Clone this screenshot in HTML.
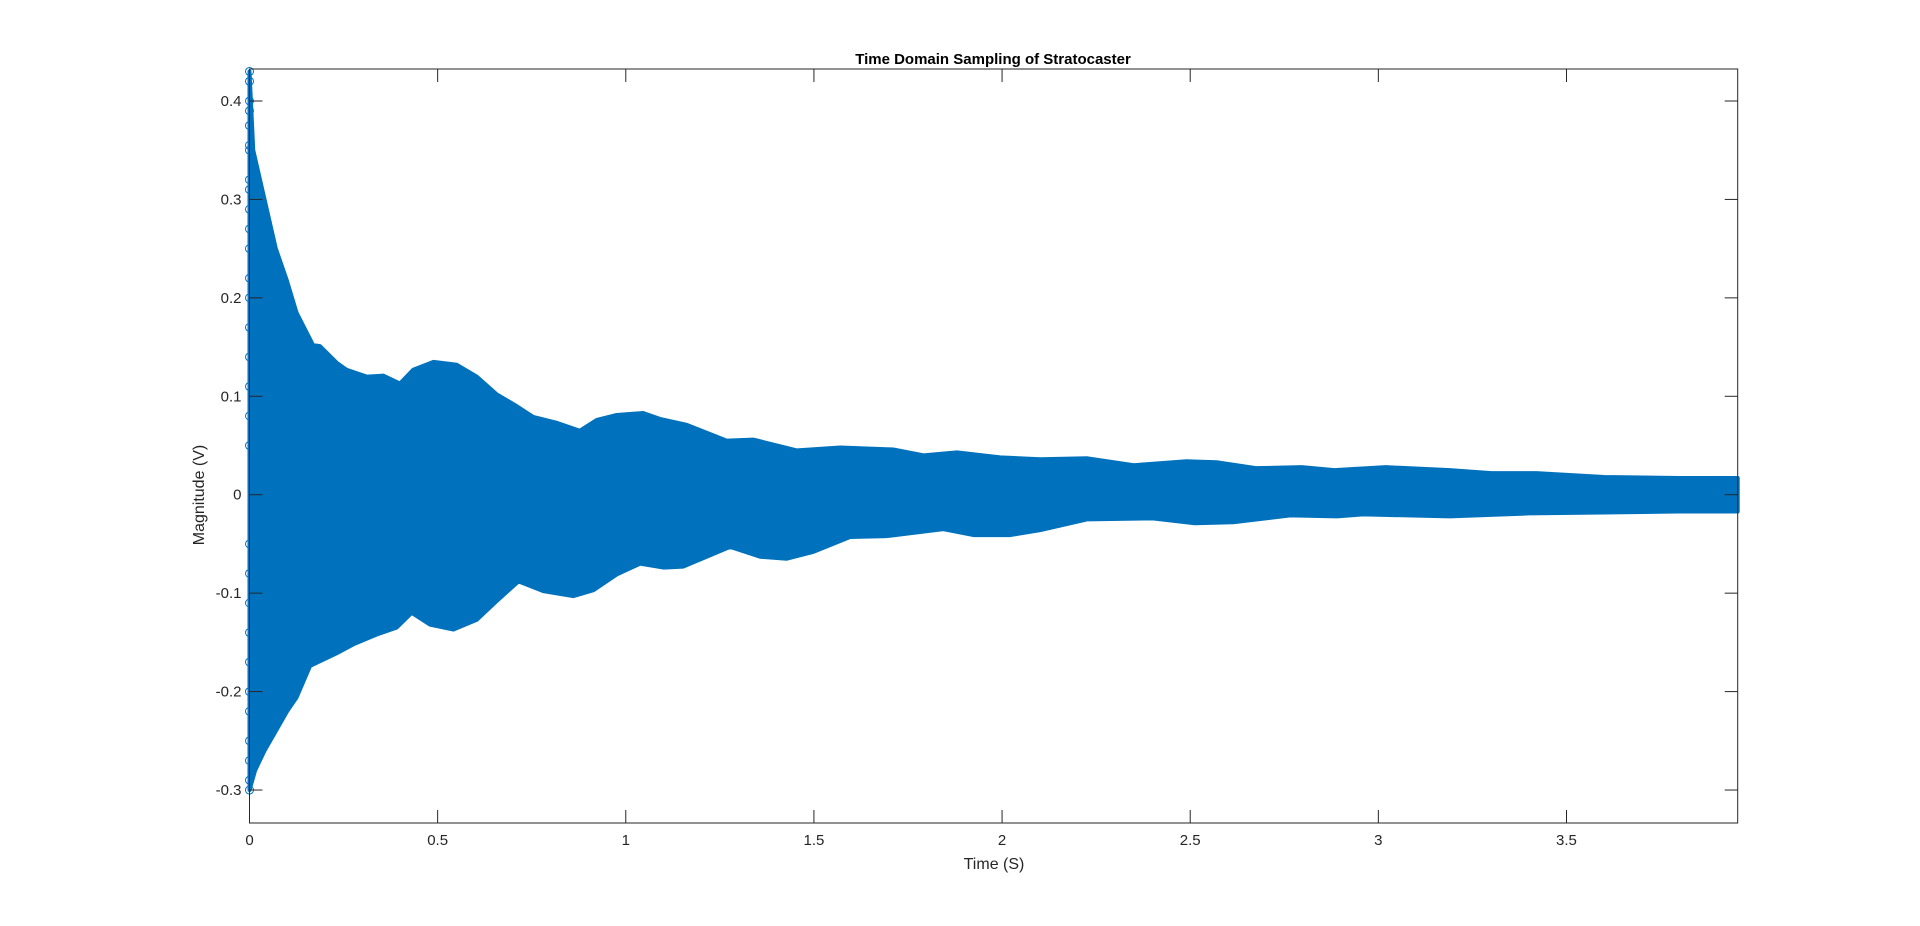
<!DOCTYPE html>
<html><head><meta charset="utf-8"><style>
body{margin:0;background:#fff;}
svg{display:block;font-family:"Liberation Sans",Arial,sans-serif;}
</style></head><body>
<svg id="chart" width="1920" height="926" viewBox="0 0 1920 926">
<rect x="0" y="0" width="1920" height="926" fill="#fff"/>
<g id="plot"></g>
<g id="axes"></g>
<text x="993" y="64" text-anchor="middle" font-size="15" font-weight="bold" fill="#000">Time Domain Sampling of Stratocaster</text>
<text x="994" y="869" text-anchor="middle" font-size="16" fill="#262626">Time (S)</text>
<text transform="translate(204,495) rotate(-90)" text-anchor="middle" font-size="16" fill="#262626">Magnitude (V)</text>
</svg>
<script>
const upperT=[0,0.01,0.04,0.07,0.099,0.125,0.169,0.187,0.232,0.258,0.312,0.356,0.400,0.435,0.489,0.551,0.604,0.657,0.710,0.754,0.817,0.878,0.923,0.976,1.046,1.091,1.162,1.268,1.339,1.455,1.570,1.711,1.791,1.880,1.995,2.101,2.227,2.35,2.49,2.57,2.674,2.796,2.883,3.02,3.19,3.3,3.42,3.6,3.8,3.955];
const upperV=[0.43,0.35,0.30,0.25,0.218,0.185,0.152,0.151,0.134,0.127,0.120,0.121,0.113,0.127,0.135,0.132,0.120,0.102,0.090,0.079,0.073,0.065,0.076,0.081,0.083,0.077,0.071,0.055,0.056,0.045,0.048,0.046,0.040,0.043,0.038,0.036,0.037,0.030,0.034,0.033,0.027,0.028,0.025,0.028,0.025,0.022,0.022,0.018,0.017,0.017];
const lowerT=[0,0.015,0.04,0.07,0.1,0.125,0.161,0.232,0.276,0.338,0.391,0.431,0.48,0.542,0.604,0.657,0.715,0.781,0.861,0.914,0.976,1.038,1.100,1.153,1.277,1.357,1.428,1.499,1.596,1.694,1.844,1.924,2.022,2.101,2.227,2.4,2.512,2.614,2.766,2.89,2.96,3.19,3.4,3.6,3.8,3.955];
const lowerV=[-0.30,-0.28,-0.26,-0.24,-0.22,-0.206,-0.174,-0.161,-0.152,-0.142,-0.135,-0.120,-0.132,-0.137,-0.127,-0.108,-0.088,-0.098,-0.103,-0.097,-0.081,-0.070,-0.074,-0.073,-0.053,-0.063,-0.065,-0.058,-0.043,-0.042,-0.035,-0.041,-0.041,-0.036,-0.025,-0.024,-0.029,-0.028,-0.021,-0.022,-0.020,-0.022,-0.019,-0.018,-0.017,-0.017];
const edgeMarkers=[0.43,0.42,0.40,0.39,0.375,0.355,0.35,0.32,0.31,0.29,0.27,0.25,0.22,0.2,0.17,0.14,0.11,0.08,0.05,-0.05,-0.08,-0.11,-0.14,-0.17,-0.2,-0.22,-0.25,-0.27,-0.29,-0.3];
const xTicks=[0,0.5,1,1.5,2,2.5,3,3.5];
const xTickLabels=["0","0.5","1","1.5","2","2.5","3","3.5"];
const yTicks=[-0.3,-0.2,-0.1,0,0.1,0.2,0.3,0.4];
const yTickLabels=["-0.3","-0.2","-0.1","0","0.1","0.2","0.3","0.4"];

const L=249.5,R=1737.7,T=69,B=823;
const xMin=0,xMax=3.955,yMin=-0.3335,yMax=0.4325;
const sx=v=>L+(v-xMin)/(xMax-xMin)*(R-L);
const sy=v=>B-(v-yMin)/(yMax-yMin)*(B-T);
const NS="http://www.w3.org/2000/svg";
const plot=document.getElementById('plot'),axes=document.getElementById('axes');
function mk(tag,attrs,parent){const e=document.createElementNS(NS,tag);for(const k in attrs)e.setAttribute(k,attrs[k]);parent.appendChild(e);return e;}

let pts=[];
for(let i=0;i<upperT.length;i++)pts.push(sx(upperT[i])+','+sy(upperV[i]));
for(let i=lowerT.length-1;i>=0;i--)pts.push(sx(lowerT[i])+','+sy(lowerV[i]));
const poly=mk('polygon',{points:pts.join(' '),fill:'#0072BD',stroke:'#0072BD','stroke-width':4,'stroke-linejoin':'round'},plot);


for(const v of edgeMarkers){
  const c=mk('circle',{cx:sx(0),cy:sy(v),r:4,fill:'none',stroke:'#0072BD','stroke-width':1},plot);
  
  
}

const box=mk('rect',{x:L,y:T,width:R-L,height:B-T,fill:'none',stroke:'#262626','stroke-width':1},axes);


xTicks.forEach((v,i)=>{
  const x=sx(v);
  mk('line',{x1:x,y1:B,x2:x,y2:B-13,stroke:'#262626'},axes);
  mk('line',{x1:x,y1:T,x2:x,y2:T+13,stroke:'#262626'},axes);
  const t=mk('text',{x:x,y:B+22,'text-anchor':'middle','font-size':15,fill:'#262626'},axes);
  t.textContent=xTickLabels[i];
  
  
});
yTicks.forEach((v,i)=>{
  const y=sy(v);
  mk('line',{x1:L,y1:y,x2:L+13,y2:y,stroke:'#262626'},axes);
  mk('line',{x1:R,y1:y,x2:R-13,y2:y,stroke:'#262626'},axes);
  const t=mk('text',{x:L-8,y:y+5,'text-anchor':'end','font-size':15,fill:'#262626'},axes);
  t.textContent=yTickLabels[i];
  
  
});
</script>
</body></html>
